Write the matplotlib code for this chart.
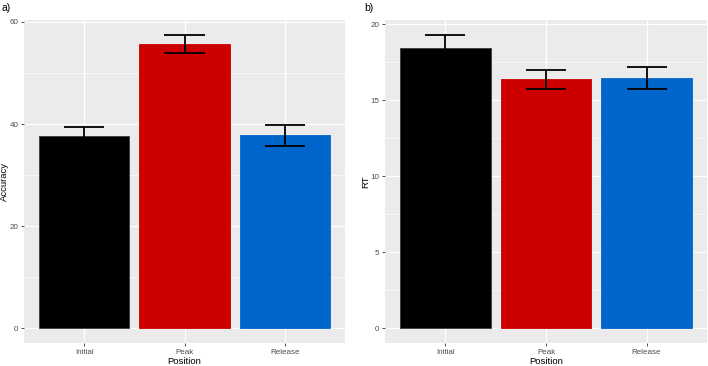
import matplotlib
matplotlib.use('Agg')
import matplotlib.pyplot as plt
import numpy as np

plt.rcParams['font.family'] = ['Liberation Sans', 'DejaVu Sans']

# Datos
posiciones = ['Initial', 'Peak', 'Release']
accuracy = [37.6, 55.7, 37.8]
accuracy_err = [1.8, 1.8, 2.1]
rt = [18.4, 16.37, 16.45]
rt_err = [0.9, 0.63, 0.7]
colores = ['#000000', '#CC0000', '#0066CC']
bordes = ['#3a3a3a', '#CC0000', '#0066CC']


def panel_gg(ax, valores, errores, etiqueta_y, ticks_y, minor_y, ancho_px):
    x = np.arange(1, len(posiciones) + 1)
    ax.set_facecolor('#EBEBEB')
    ax.bar(x, valores, width=0.9, color=colores, edgecolor=bordes,
           linewidth=0.6, zorder=3)
    sup = np.array(valores) + np.array(errores)
    inf = np.array(valores) - np.array(errores)
    ax.vlines(x, inf, sup, color='black', linewidth=1.3, zorder=4)
    ax.hlines(sup, x - 0.2, x + 0.2, color='black', linewidth=1.3, zorder=4)
    ax.hlines(inf, x - 0.2, x + 0.2, color='black', linewidth=1.3, zorder=4)

    top = max(sup)
    ax.set_ylim(-0.05 * top, top * 1.05)
    ax.set_xlim(0.4, 3.6)
    ax.set_xticks(x)
    ax.set_xticklabels(posiciones)
    ax.set_yticks(ticks_y)
    ax.set_yticks(minor_y, minor=True)
    ax.grid(True, which='major', color='white', linewidth=0.9, zorder=0)
    ax.grid(True, which='minor', axis='y', color='white', linewidth=0.45, zorder=0)
    ax.set_axisbelow(True)
    for s in ax.spines.values():
        s.set_visible(False)
    ax.tick_params(axis='both', which='major', length=2.5, width=0.6,
                   color='#333333', labelsize=5.8, labelcolor='#4D4D4D', pad=1.5)
    ax.tick_params(axis='both', which='minor', length=0)
    ax.set_xlabel('Position', fontsize=6.8, va='center')
    ax.xaxis.set_label_coords(0.5, -19 / 323)
    ax.set_ylabel(etiqueta_y, fontsize=6.8, va='center')
    ax.yaxis.set_label_coords(-19.5 / ancho_px, 0.5)


fig = plt.figure(figsize=(7.08, 3.66), dpi=100)
ax1 = fig.add_axes([24 / 708, 23 / 366, 321 / 708, 323 / 366])
ax2 = fig.add_axes([385 / 708, 23 / 366, 322 / 708, 323 / 366])

panel_gg(ax1, accuracy, accuracy_err, 'Accuracy', [0, 20, 40, 60], [10, 30, 50], 321)
panel_gg(ax2, rt, rt_err, 'RT', [0, 5, 10, 15, 20], [2.5, 7.5, 12.5, 17.5], 322)

fig.text(2 / 708, 1 - 8 / 366, 'a)', fontsize=7.5, va='center', ha='left')
fig.text(364 / 708, 1 - 8 / 366, 'b)', fontsize=7.5, va='center', ha='left')

plt.savefig('out.png', dpi=100)
plt.close()
